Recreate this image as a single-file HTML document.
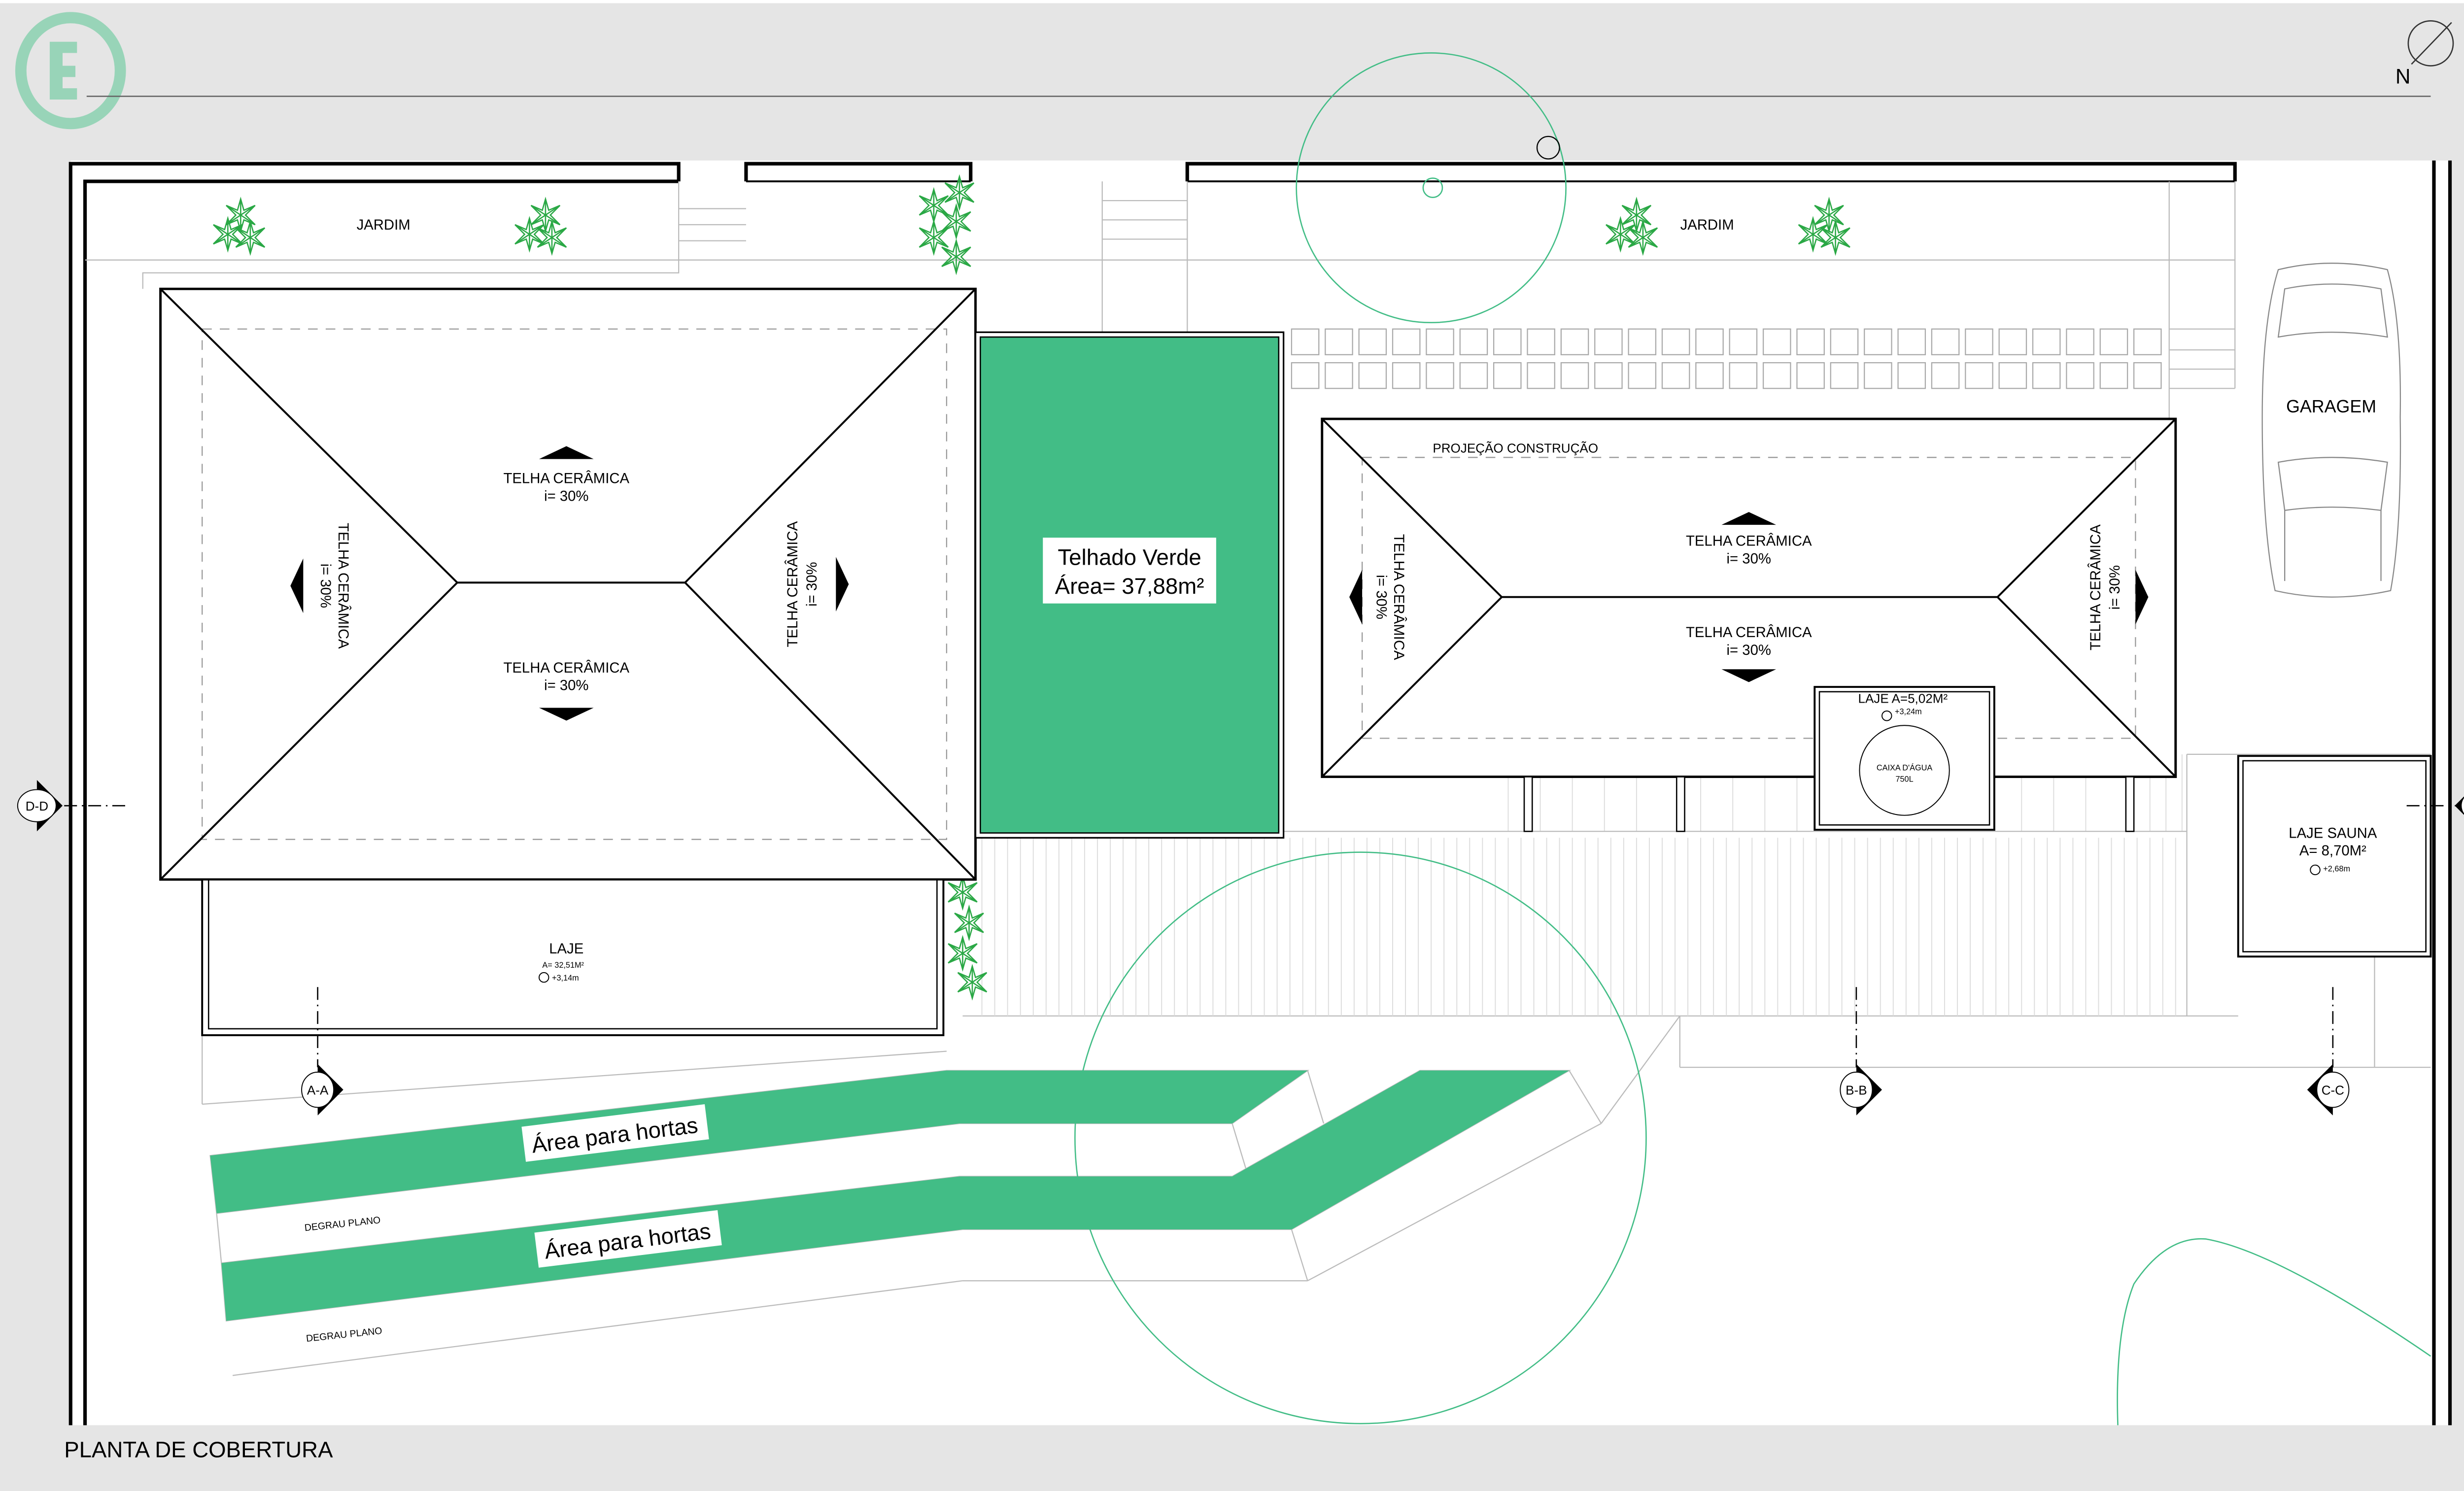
<!DOCTYPE html>
<html><head><meta charset="utf-8"><style>
html,body{margin:0;padding:0;background:#e5e5e5;}
svg{display:block;}
text{font-family:"Liberation Sans",sans-serif;}
</style></head><body>
<svg width="5105" height="3026" viewBox="0 0 1568 929" preserveAspectRatio="none" xmlns="http://www.w3.org/2000/svg">
<defs>
<g id="plant" fill="none" stroke="#2aa845" stroke-width="0.8">
<path d="M0,-10 L2,-3 L9,-6 L3,0 L9,6 L2,3 L0,10 L-2,3 L-9,6 L-3,0 L-9,-6 L-2,-3 Z"/>
<path d="M0,-10 L0,10 M-9,-6 L9,6 M9,-6 L-9,6"/>
</g>
<g id="tile"><rect width="17" height="16" fill="none" stroke="#aaa" stroke-width="0.7"/></g>
</defs>
<rect x="0" y="0" width="1568" height="929" fill="#e5e5e5"/>
<rect x="0" y="0" width="1568" height="2" fill="#fff"/>
<!-- logo -->
<ellipse cx="44" cy="44" rx="31" ry="33" fill="none" stroke="#98d4b8" stroke-width="7"/>
<path d="M31,26 H48 V33 H39 V41 H47 V48 H39 V55 H48 V62 H31 Z" fill="#98d4b8"/>
<line x1="54" y1="60" x2="1515" y2="60" stroke="#666" stroke-width="0.8"/>
<!-- north -->
<circle cx="1515" cy="27" r="14" fill="none" stroke="#333" stroke-width="0.8"/>
<line x1="1503" y1="40" x2="1528" y2="14" stroke="#333" stroke-width="0.8"/>
<text x="1493" y="52" font-size="13">N</text>
<!-- white sheet -->
<rect x="44" y="100" width="1483" height="788" fill="#fff"/>
<!-- outer walls -->
<g stroke="#000" stroke-width="2.2" fill="none">
<path d="M44,888 V102 H423 V113"/>
<path d="M53,888 V113 H423"/>
<path d="M465,113 V102 H605 V113"/>
<path d="M740,113 V102 H1393 V113"/>
<line x1="465" y1="113" x2="605" y2="113" stroke-width="1.2"/>
<line x1="740" y1="113" x2="1393" y2="113" stroke-width="1.2"/>
<path d="M1517,888 V100"/>
<path d="M1527,888 V100"/>
</g>
<!-- thin grey lines -->
<g stroke="#bbb" stroke-width="0.7" fill="none">
<line x1="53" y1="162" x2="1393" y2="162"/>
<path d="M423,113 V170 H89 V180"/>
<line x1="423" y1="130" x2="465" y2="130"/><line x1="423" y1="140" x2="465" y2="140"/><line x1="423" y1="150" x2="465" y2="150"/>
<line x1="687" y1="113" x2="687" y2="207"/><line x1="740" y1="113" x2="740" y2="207"/>
<line x1="687" y1="125" x2="740" y2="125"/><line x1="687" y1="137" x2="740" y2="137"/><line x1="687" y1="149" x2="740" y2="149"/>
<line x1="1352" y1="113" x2="1352" y2="470"/>
<line x1="1352" y1="205" x2="1393" y2="205"/><line x1="1352" y1="218" x2="1393" y2="218"/><line x1="1352" y1="230" x2="1393" y2="230"/><line x1="1352" y1="242" x2="1393" y2="242"/>
<line x1="1393" y1="113" x2="1393" y2="242"/>
<line x1="1363" y1="470" x2="1515" y2="470"/>
<line x1="1363" y1="470" x2="1363" y2="633"/>
<line x1="600" y1="633" x2="1395" y2="633"/>
<line x1="1047" y1="665" x2="1515" y2="665"/>
<line x1="1047" y1="633" x2="1047" y2="665"/>
<line x1="1480" y1="596" x2="1480" y2="665"/>
<line x1="126" y1="645" x2="126" y2="688"/>
<line x1="126" y1="688" x2="590" y2="655"/>
<!-- ramp lines -->
<path d="M131,720 L590,667 H815 L768,700 H598 L135,756 Z"/>
<path d="M885,667 H978 L805,766 H600 L141,823 L138,787 L598,733 H768 Z"/>
<line x1="815" y1="667" x2="825" y2="700"/>
<line x1="768" y1="700" x2="778" y2="733"/>
<line x1="978" y1="667" x2="998" y2="700"/>
<line x1="1047" y1="633" x2="998" y2="700"/>
<line x1="998" y1="700" x2="815" y2="798"/>
<line x1="805" y1="766" x2="815" y2="798"/>
<line x1="815" y1="798" x2="600" y2="798"/>
<line x1="600" y1="798" x2="145" y2="857"/>
<line x1="135" y1="756" x2="138" y2="787"/>
</g>
<!-- hortas -->
<path d="M131,720 L590,667 H815 L768,700 H598 L135,756 Z" fill="#42bd86"/>
<path d="M885,667 H978 L805,766 H600 L141,823 L138,787 L598,733 H768 Z" fill="#42bd86"/>
<rect x="326" y="695" width="115" height="22" fill="#fff" transform="rotate(-7 383 706)"/>
<text x="383" y="712" font-size="14" text-anchor="middle" transform="rotate(-7 383 706)">Área para hortas</text>
<rect x="334" y="761" width="115" height="22" fill="#fff" transform="rotate(-7 391 772)"/>
<text x="391" y="778" font-size="14" text-anchor="middle" transform="rotate(-7 391 772)">Área para hortas</text>
<text x="190" y="767" font-size="6" transform="rotate(-6 190 767)">DEGRAU PLANO</text>
<text x="191" y="836" font-size="6" transform="rotate(-6 191 836)">DEGRAU PLANO</text>
<!-- paving stripes -->
<g stroke="#ddd" stroke-width="0.6">
<path d="M612,522 V633 M620,522 V633 M628,522 V633 M636,522 V633 M644,522 V633 M652,522 V633 M660,522 V633 M668,522 V633 M676,522 V633 M684,522 V633 M692,522 V633 M700,522 V633 M708,522 V633 M716,522 V633 M724,522 V633 M732,522 V633 M740,522 V633 M748,522 V633 M756,522 V633 M764,522 V633 M772,522 V633 M780,522 V633 M788,522 V633 M796,522 V633 M804,522 V633 M812,522 V633 M820,522 V633 M828,522 V633 M836,522 V633 M844,522 V633 M852,522 V633 M860,522 V633 M868,522 V633 M876,522 V633 M884,522 V633 M892,522 V633 M900,522 V633 M908,522 V633 M916,522 V633 M924,522 V633 M932,522 V633 M940,522 V633 M948,522 V633 M956,522 V633 M964,522 V633 M972,522 V633 M980,522 V633 M988,522 V633 M996,522 V633 M1004,522 V633 M1012,522 V633 M1020,522 V633 M1028,522 V633 M1036,522 V633 M1044,522 V633 M1052,522 V633 M1060,522 V633 M1068,522 V633 M1076,522 V633 M1084,522 V633 M1092,522 V633 M1100,522 V633 M1108,522 V633 M1116,522 V633 M1124,522 V633 M1132,522 V633 M1140,522 V633 M1148,522 V633 M1156,522 V633 M1164,522 V633 M1172,522 V633 M1180,522 V633 M1188,522 V633 M1196,522 V633 M1204,522 V633 M1212,522 V633 M1220,522 V633 M1228,522 V633 M1236,522 V633 M1244,522 V633 M1252,522 V633 M1260,522 V633 M1268,522 V633 M1276,522 V633 M1284,522 V633 M1292,522 V633 M1300,522 V633 M1308,522 V633 M1316,522 V633 M1324,522 V633 M1332,522 V633 M1340,522 V633 M1348,522 V633 M1356,522 V633"/>
<path d="M940,484 V518 M960,484 V518 M980,484 V518 M1000,484 V518 M1020,484 V518 M1060,484 V518 M1080,484 V518 M1100,484 V518 M1120,484 V518 M1260,484 V518 M1280,484 V518 M1300,484 V518 M1340,470 V518 M1350,470 V518 M1360,470 V518"/>
</g>
<line x1="800" y1="518" x2="1363" y2="518" stroke="#bbb" stroke-width="0.7"/>
<!-- tiles -->
<g>
<use href="#tile" x="805" y="205"/><use href="#tile" x="826" y="205"/><use href="#tile" x="847" y="205"/><use href="#tile" x="868" y="205"/><use href="#tile" x="889" y="205"/><use href="#tile" x="910" y="205"/><use href="#tile" x="931" y="205"/><use href="#tile" x="952" y="205"/><use href="#tile" x="973" y="205"/><use href="#tile" x="994" y="205"/><use href="#tile" x="1015" y="205"/><use href="#tile" x="1036" y="205"/><use href="#tile" x="1057" y="205"/><use href="#tile" x="1078" y="205"/><use href="#tile" x="1099" y="205"/><use href="#tile" x="1120" y="205"/><use href="#tile" x="1141" y="205"/><use href="#tile" x="1162" y="205"/><use href="#tile" x="1183" y="205"/><use href="#tile" x="1204" y="205"/><use href="#tile" x="1225" y="205"/><use href="#tile" x="1246" y="205"/><use href="#tile" x="1267" y="205"/><use href="#tile" x="1288" y="205"/><use href="#tile" x="1309" y="205"/><use href="#tile" x="1330" y="205"/>
<use href="#tile" x="805" y="226"/><use href="#tile" x="826" y="226"/><use href="#tile" x="847" y="226"/><use href="#tile" x="868" y="226"/><use href="#tile" x="889" y="226"/><use href="#tile" x="910" y="226"/><use href="#tile" x="931" y="226"/><use href="#tile" x="952" y="226"/><use href="#tile" x="973" y="226"/><use href="#tile" x="994" y="226"/><use href="#tile" x="1015" y="226"/><use href="#tile" x="1036" y="226"/><use href="#tile" x="1057" y="226"/><use href="#tile" x="1078" y="226"/><use href="#tile" x="1099" y="226"/><use href="#tile" x="1120" y="226"/><use href="#tile" x="1141" y="226"/><use href="#tile" x="1162" y="226"/><use href="#tile" x="1183" y="226"/><use href="#tile" x="1204" y="226"/><use href="#tile" x="1225" y="226"/><use href="#tile" x="1246" y="226"/><use href="#tile" x="1267" y="226"/><use href="#tile" x="1288" y="226"/><use href="#tile" x="1309" y="226"/><use href="#tile" x="1330" y="226"/>
</g>
<!-- jardim -->
<text x="239" y="143" font-size="9" text-anchor="middle">JARDIM</text>
<text x="1064" y="143" font-size="9" text-anchor="middle">JARDIM</text>
<use href="#plant" x="150" y="134"/><use href="#plant" x="142" y="146"/><use href="#plant" x="156" y="148"/>
<use href="#plant" x="340" y="134"/><use href="#plant" x="330" y="146"/><use href="#plant" x="344" y="148"/>
<use href="#plant" x="1020" y="134"/><use href="#plant" x="1010" y="146"/><use href="#plant" x="1024" y="148"/>
<use href="#plant" x="1140" y="134"/><use href="#plant" x="1130" y="146"/><use href="#plant" x="1144" y="148"/>
<use href="#plant" x="598" y="120"/><use href="#plant" x="582" y="128"/><use href="#plant" x="596" y="138"/><use href="#plant" x="582" y="148"/><use href="#plant" x="596" y="160"/>
<use href="#plant" x="600" y="556"/><use href="#plant" x="604" y="575"/><use href="#plant" x="600" y="594"/><use href="#plant" x="606" y="612"/>
<!-- left roof -->
<rect x="100" y="180" width="508" height="368" fill="#fff" stroke="#000" stroke-width="1.5"/>
<rect x="126" y="205" width="464" height="318" fill="none" stroke="#999" stroke-width="0.7" stroke-dasharray="6,5"/>
<path d="M100,180 L285,363 H427 L608,180 M100,548 L285,363 M608,548 L427,363" stroke="#000" stroke-width="1.2" fill="none"/>
<text x="353" y="301" font-size="9" text-anchor="middle">TELHA CERÂMICA</text>
<text x="353" y="312" font-size="9" text-anchor="middle">i= 30%</text>
<path d="M336,286 L353,278 L370,286 Z"/>
<text x="353" y="419" font-size="9" text-anchor="middle">TELHA CERÂMICA</text>
<text x="353" y="430" font-size="9" text-anchor="middle">i= 30%</text>
<path d="M336,441 L353,449 L370,441 Z"/>
<text transform="translate(211,365) rotate(90)" font-size="9" text-anchor="middle">TELHA CERÂMICA</text>
<text transform="translate(200,365) rotate(90)" font-size="9" text-anchor="middle">i= 30%</text>
<path d="M189,348 L181,365 L189,382 Z"/>
<text transform="translate(497,364) rotate(-90)" font-size="9" text-anchor="middle">TELHA CERÂMICA</text>
<text transform="translate(509,364) rotate(-90)" font-size="9" text-anchor="middle">i= 30%</text>
<path d="M521,347 L529,364 L521,381 Z"/>
<!-- laje -->
<rect x="126" y="548" width="462" height="97" fill="#fff" stroke="#000" stroke-width="1.2"/>
<rect x="130" y="548" width="454" height="93" fill="none" stroke="#000" stroke-width="0.8"/>
<text x="353" y="594" font-size="9" text-anchor="middle">LAJE</text>
<text x="338" y="603" font-size="5">A= 32,51M²</text>
<circle cx="339" cy="609" r="3" fill="none" stroke="#000" stroke-width="0.6"/>
<text x="344" y="611" font-size="5">+3,14m</text>
<!-- telhado verde -->
<rect x="608" y="207" width="192" height="315" fill="#fff" stroke="#000" stroke-width="1"/>
<rect x="611" y="210" width="186" height="309" fill="#42bd86" stroke="#000" stroke-width="0.8"/>
<rect x="650" y="335" width="108" height="41" fill="#fff"/>
<text x="704" y="352" font-size="14" text-anchor="middle">Telhado Verde</text>
<text x="704" y="370" font-size="14" text-anchor="middle">Área= 37,88m²</text>
<!-- right roof -->
<rect x="824" y="261" width="532" height="223" fill="#fff" stroke="#000" stroke-width="1.5"/>
<rect x="849" y="285" width="482" height="175" fill="none" stroke="#999" stroke-width="0.7" stroke-dasharray="6,5"/>
<path d="M824,261 L936,372 H1245 L1356,261 M824,484 L936,372 M1356,484 L1245,372" stroke="#000" stroke-width="1.2" fill="none"/>
<text x="893" y="282" font-size="8">PROJEÇÃO CONSTRUÇÃO</text>
<text x="1090" y="340" font-size="9" text-anchor="middle">TELHA CERÂMICA</text>
<text x="1090" y="351" font-size="9" text-anchor="middle">i= 30%</text>
<path d="M1073,327 L1090,319 L1107,327 Z"/>
<text x="1090" y="397" font-size="9" text-anchor="middle">TELHA CERÂMICA</text>
<text x="1090" y="408" font-size="9" text-anchor="middle">i= 30%</text>
<path d="M1073,417 L1090,425 L1107,417 Z"/>
<text transform="translate(869,372) rotate(90)" font-size="9" text-anchor="middle">TELHA CERÂMICA</text>
<text transform="translate(858,372) rotate(90)" font-size="9" text-anchor="middle">i= 30%</text>
<path d="M849,355 L841,372 L849,389 Z"/>
<text transform="translate(1309,366) rotate(-90)" font-size="9" text-anchor="middle">TELHA CERÂMICA</text>
<text transform="translate(1321,366) rotate(-90)" font-size="9" text-anchor="middle">i= 30%</text>
<path d="M1331,355 L1339,372 L1331,389 Z"/>
<!-- pillars -->
<g fill="#fff" stroke="#000" stroke-width="0.8">
<rect x="950" y="484" width="5" height="34"/><rect x="1045" y="484" width="5" height="34"/><rect x="1325" y="484" width="5" height="34"/>
</g>
<!-- caixa -->
<rect x="1131" y="428" width="112" height="89" fill="#fff" stroke="#000" stroke-width="1.2"/>
<rect x="1134" y="431" width="106" height="83" fill="none" stroke="#000" stroke-width="0.8"/>
<text x="1186" y="438" font-size="8" text-anchor="middle">LAJE A=5,02M²</text>
<circle cx="1176" cy="446" r="3" fill="none" stroke="#000" stroke-width="0.6"/>
<text x="1181" y="445" font-size="5">+3,24m</text>
<circle cx="1187" cy="480" r="28" fill="none" stroke="#000" stroke-width="0.6"/>
<text x="1187" y="480" font-size="5" text-anchor="middle">CAIXA D'ÁGUA</text>
<text x="1187" y="487" font-size="5" text-anchor="middle">750L</text>
<!-- sauna -->
<rect x="1395" y="471" width="120" height="125" fill="#fff" stroke="#000" stroke-width="1.2"/>
<rect x="1398" y="474" width="114" height="119" fill="none" stroke="#000" stroke-width="0.8"/>
<text x="1454" y="522" font-size="9" text-anchor="middle">LAJE SAUNA</text>
<text x="1454" y="533" font-size="9" text-anchor="middle">A= 8,70M²</text>
<circle cx="1443" cy="542" r="3" fill="none" stroke="#000" stroke-width="0.6"/>
<text x="1448" y="543" font-size="5">+2,68m</text>
<!-- car -->
<g fill="none" stroke="#888" stroke-width="0.7">
<path d="M1420,168 Q1453,160 1488,168 Q1497,200 1496,260 Q1497,330 1490,368 Q1453,376 1418,368 Q1410,330 1410,260 Q1410,200 1420,168 Z"/>
<path d="M1420,210 Q1453,204 1488,210 L1484,180 Q1453,174 1424,180 Z"/>
<path d="M1420,288 Q1453,282 1488,288 L1484,318 Q1453,314 1424,318 Z"/>
<path d="M1424,318 V362 M1484,318 V362"/>
</g>
<text x="1453" y="257" font-size="11" text-anchor="middle">GARAGEM</text>
<!-- tree circles -->
<g fill="none" stroke="#42bd86" stroke-width="0.8">
<circle cx="892" cy="117" r="84"/><circle cx="893" cy="117" r="6"/>
<ellipse cx="848" cy="709" rx="178" ry="178"/><circle cx="848" cy="709" r="15"/>
<path d="M1320,888 Q1318,830 1330,800 Q1350,770 1375,772 Q1420,780 1515,845"/>
</g>
<circle cx="965" cy="92" r="7" fill="none" stroke="#000" stroke-width="0.7"/>
<!-- section markers -->
<g stroke="#000" stroke-width="0.8" stroke-dasharray="8,3,1,3">
<line x1="198" y1="615" x2="198" y2="665"/><line x1="1157" y1="615" x2="1157" y2="665"/><line x1="1454" y1="615" x2="1454" y2="665"/>
<line x1="40" y1="502" x2="80" y2="502"/><line x1="1500" y1="502" x2="1532" y2="502"/>
</g>
<g font-size="8" text-anchor="middle">
<path d="M198,663 L214,679 L198,695 Z"/><ellipse cx="198" cy="679" rx="10" ry="11" fill="#fff" stroke="#000" stroke-width="0.6"/><text x="198" y="682">A-A</text>
<path d="M1157,663 L1173,679 L1157,695 Z"/><ellipse cx="1157" cy="679" rx="10" ry="11" fill="#fff" stroke="#000" stroke-width="0.6"/><text x="1157" y="682">B-B</text>
<path d="M1454,663 L1438,679 L1454,695 Z"/><ellipse cx="1454" cy="679" rx="10" ry="11" fill="#fff" stroke="#000" stroke-width="0.6"/><text x="1454" y="682">C-C</text>
<path d="M23,486 L39,502 L23,518 Z"/><ellipse cx="23" cy="502" rx="12" ry="10" fill="#fff" stroke="#000" stroke-width="0.6"/><text x="23" y="505">D-D</text>
<path d="M1546,486 L1530,502 L1546,518 Z"/><ellipse cx="1546" cy="502" rx="12" ry="10" fill="#fff" stroke="#000" stroke-width="0.6"/><text x="1546" y="505">D-D</text>
</g>
<text x="40" y="908" font-size="14">PLANTA DE COBERTURA</text>
</svg>
</body></html>
